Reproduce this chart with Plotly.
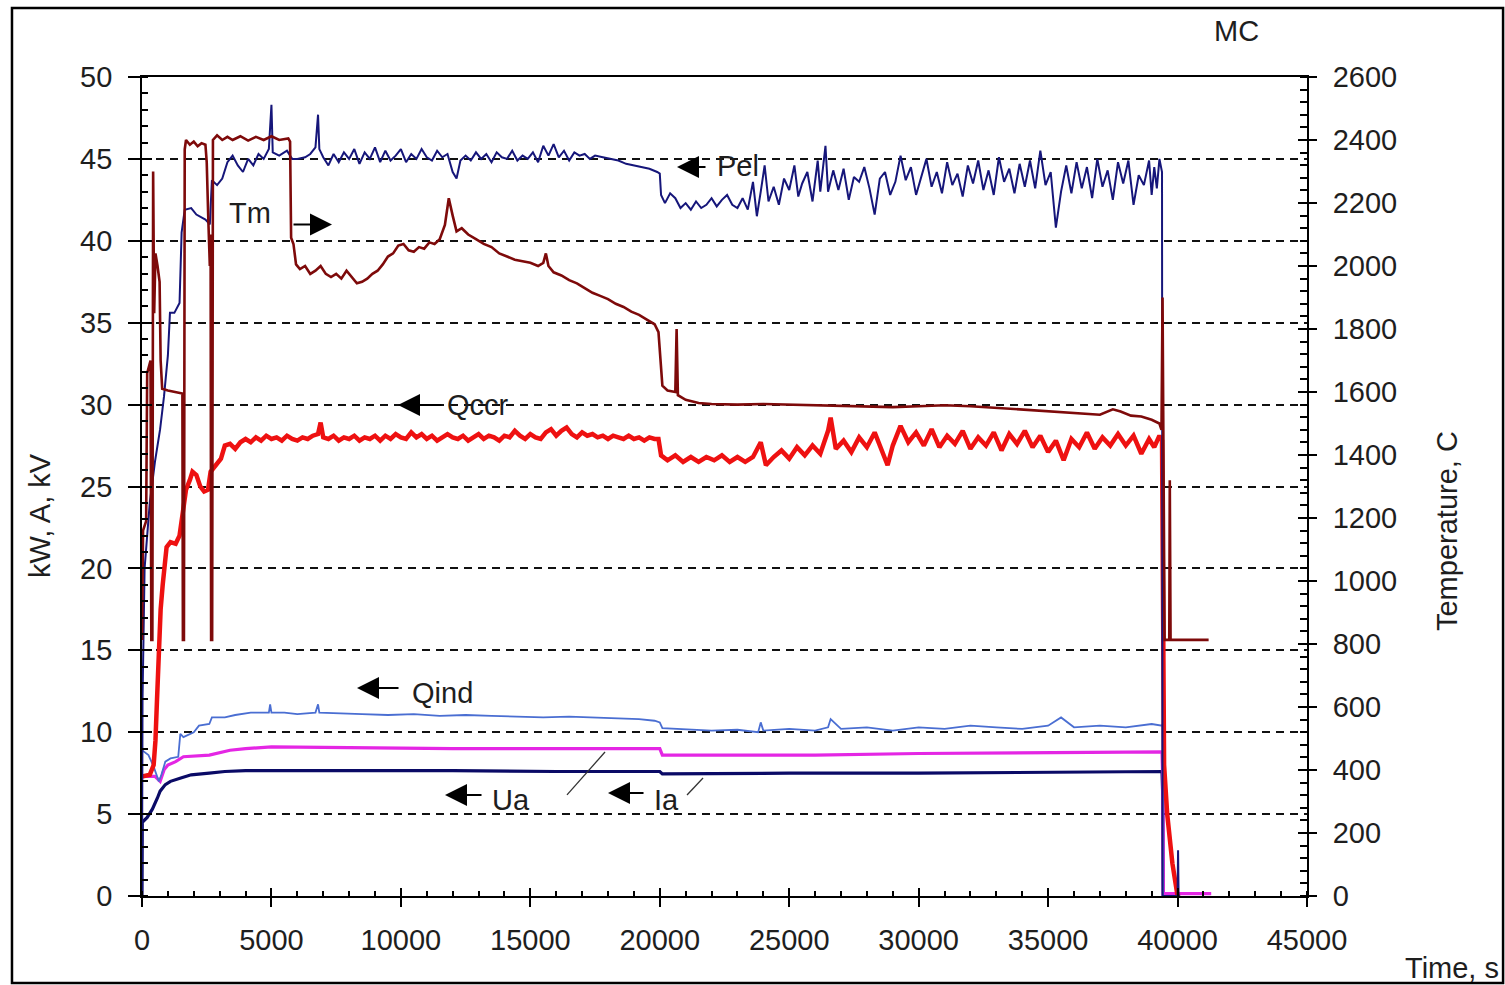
import plotly.graph_objects as go

# ---------------- data ----------------
# time axis ticks
time_ticks = [0, 5000, 10000, 15000, 20000, 25000, 30000, 35000, 40000, 45000]
time_labels = [str(v) for v in time_ticks]
left_ticks = [0, 5, 10, 15, 20, 25, 30, 35, 40, 45, 50]
right_ticks = [0, 200, 400, 600, 800, 1000, 1200, 1400, 1600, 1800, 2000, 2200, 2400, 2600]

# Pel, kW
pel_t = [0, 20, 100, 300, 500, 700, 850, 1000, 1080, 1250, 1450, 1530, 1650, 1900, 2100, 2450,
         2620, 2700, 2900, 3100, 3300, 3500, 3700, 3900, 4100, 4300, 4500, 4700, 4900, 5000,
         5050, 5300, 5600, 5800, 6000, 6300, 6500, 6700, 6800, 6850, 7000, 7200, 7400, 7600,
         7800, 8000, 8200, 8400, 8600, 8800, 9000, 9200, 9400, 9600, 9800, 10000, 10200,
         10400, 10600, 10800, 11000, 11200, 11400, 11600, 11800, 12000, 12150, 12300, 12500,
         12700, 12900, 13100, 13300, 13500, 13700, 13900, 14100, 14300, 14500, 14700, 14900,
         15100, 15300, 15500, 15700, 15900, 16100, 16300, 16500, 16700, 16900, 17100, 17300,
         17500, 17800, 18100, 18400, 18700, 19000, 19300, 19600, 19900, 20000, 20050, 20200,
         20400, 20600, 20800, 21000, 21200, 21400, 21600, 21800, 22000, 22200, 22400, 22600,
         22800, 23000, 23200, 23400, 23600, 23750, 23900, 24050, 24200, 24400, 24600, 24800,
         25000, 25200, 25350, 25500, 25700, 25900, 26100, 26200, 26400, 26500, 26700, 26900,
         27100, 27300, 27500, 27700, 27900, 28100, 28300, 28500, 28700, 28900, 29100, 29300,
         29500, 29700, 29900, 30100, 30300, 30500, 30700, 30900, 31100, 31300, 31500, 31700,
         31900, 32100, 32300, 32500, 32700, 32900, 33100, 33300, 33500, 33700, 33900, 34100,
         34300, 34500, 34700, 34900, 35100, 35300, 35500, 35700, 35900, 36100, 36300, 36500,
         36700, 36900, 37100, 37300, 37500, 37700, 37900, 38100, 38300, 38500, 38700, 38900,
         39000, 39100, 39200, 39300, 39400, 39420, 40000, 40020, 40040, 40100]
pel_v = [0, 12, 20, 24, 26.5, 28.5, 30.5, 33, 35.6, 35.6, 36.2, 40.5, 41.9, 42.0, 41.6, 41.3,
         41.0, 43.7, 43.4, 43.8, 44.8, 45.2, 44.6, 44.2, 45.0, 44.6, 45.3, 45.0, 45.6, 48.3,
         45.4, 45.2, 45.5, 45.0, 45.0, 45.1, 45.3, 45.7, 47.7, 45.6, 45.1, 44.6, 45.3, 44.8,
         45.4, 45.0, 45.6, 44.7, 45.4, 45.0, 45.7, 44.8, 45.5, 44.9, 45.2, 45.6, 44.8,
         45.3, 45.0, 45.6, 45.1, 44.9, 45.5, 45.1, 45.3, 44.2, 43.8, 44.9, 45.2,
         44.9, 45.4, 45.0, 45.3, 44.8, 45.4, 45.1, 45.0, 45.5, 44.9, 45.2, 45.0,
         45.4, 44.8, 45.8, 45.2, 45.9, 45.1, 45.5, 44.9, 45.4, 45.2, 45.3, 45.0,
         45.2, 45.1, 45.0, 44.9, 44.7, 44.6, 44.5, 44.4, 44.2, 44.1, 42.8, 42.3,
         42.9, 42.6, 42.0, 42.3, 41.9, 42.4, 42.0, 42.2, 42.6, 42.1, 42.5, 42.8,
         42.2, 42.0, 42.6, 41.9, 43.6, 41.5, 43.0, 44.6, 42.4, 43.3, 42.2, 43.8,
         43.1, 44.6, 42.7, 43.5, 44.2, 42.4, 44.9, 43.0, 45.8, 43.0, 44.3, 43.1,
         44.4, 42.5, 43.9, 43.6, 44.5, 43.2, 41.6, 43.8, 44.2, 42.8, 43.6, 45.2,
         43.7, 44.5, 42.8, 43.9, 45.0, 43.3, 44.2, 42.9, 44.8, 43.4, 44.1, 42.7,
         44.6, 43.5, 44.9, 43.1, 44.3, 42.8, 45.1, 43.6, 44.4, 42.9, 44.7, 43.3,
         44.9, 43.2, 45.5, 43.4, 44.2, 40.8, 43.0, 44.6, 42.9, 44.8, 43.2, 44.5,
         42.6, 45.0, 43.3, 44.3, 42.5, 44.8, 43.5, 44.9, 42.2, 44.0, 43.4, 44.9,
         42.8, 44.5, 43.2, 45.0, 44.2, 0, 0, 2.8, 0, 0]

# Qccr, kW
qccr_t = [0, 300, 450, 520, 580, 650, 720, 800, 880, 950, 1100, 1300, 1450, 1550, 1700, 1850,
          1950, 2100, 2250, 2400, 2550, 2650, 2800, 3050, 3200, 3400, 3600, 3800,
          4000, 4200, 4400, 4600, 4800, 5000, 5200, 5400, 5600, 5800, 6000, 6200, 6400, 6600,
          6800, 6900, 7000, 7200, 7400, 7600, 7800, 8000, 8200, 8400, 8600, 8800, 9000, 9200,
          9400, 9600, 9800, 10000, 10200, 10400, 10600, 10800, 11000, 11200, 11400, 11600,
          11800, 12000, 12200, 12400, 12600, 12800, 13000, 13200, 13400, 13600, 13800, 14000,
          14200, 14400, 14600, 14800, 15000, 15200, 15400, 15600, 15800, 16000, 16200, 16400,
          16600, 16800, 17000, 17200, 17400, 17600, 17800, 18000, 18200, 18400, 18600, 18800,
          19000, 19200, 19400, 19600, 19800, 19950,
          20050, 20300, 20600, 20900, 21200, 21500, 21800, 22100,
          22400, 22700, 23000, 23300, 23600, 23900, 24100, 24400, 24700, 25000, 25300, 25600,
          25900, 26200, 26500, 26600, 26800, 27100, 27400, 27700, 28000, 28300, 28600, 28800,
          29000, 29300, 29600, 29900, 30200, 30500, 30800, 31100, 31400, 31700, 32000, 32300,
          32600, 32900, 33200, 33500, 33800, 34100, 34400, 34700, 35000, 35300, 35600, 35900,
          36200, 36500, 36800, 37100, 37400, 37700, 38000, 38300, 38600, 38900, 39100, 39300,
          39400, 39430, 39480, 39600, 39800, 40000, 40100]
qccr_v = [7.3, 7.4, 8.0, 9.5, 12.0, 15.0, 17.5, 19.0, 20.5, 21.3, 21.6, 21.5, 22.0, 23.2, 24.8,
          25.4, 25.9, 25.7, 25.0, 24.7, 24.8, 25.9, 26.2, 26.7, 27.5, 27.6, 27.3, 27.7,
          27.9, 27.7, 28.0, 27.8, 28.1, 27.9, 28.0, 27.8, 28.1, 27.9, 27.8, 28.0, 27.9, 28.1,
          28.2, 28.9, 28.0, 27.9, 28.1, 27.8, 28.0, 27.9, 28.1, 27.8, 28.0, 27.9, 28.1, 27.8,
          28.1, 27.9, 28.2, 28.0, 27.9, 28.3, 28.0, 28.2, 27.9, 28.1, 27.8, 28.0,
          28.2, 28.0, 27.9, 28.1, 27.8, 28.0, 28.2, 27.9, 28.1, 28.0, 27.8, 28.1,
          28.0, 28.4, 28.1, 27.9, 28.2, 28.0, 27.9, 28.3, 28.5, 28.1, 28.4, 28.6,
          28.2, 28.0, 28.3, 28.1, 28.2, 28.0, 28.1, 27.9, 28.1, 28.0, 27.9, 28.1,
          27.9, 28.0, 27.8, 28.0, 27.9, 27.9,
          26.9, 26.6, 26.9, 26.5, 26.8, 26.5, 26.8, 26.6,
          26.9, 26.5, 26.8, 26.5, 26.8, 27.7, 26.3, 26.8, 27.2, 26.7, 27.4, 26.9,
          27.5, 27.0, 28.4, 29.2, 27.3, 27.8, 27.1, 28.0, 27.4, 28.3, 27.0, 26.3,
          27.5, 28.7, 27.7, 28.3, 27.5, 28.5, 27.4, 28.1, 27.6, 28.4, 27.3, 28.0,
          27.5, 28.3, 27.2, 28.2, 27.6, 28.4, 27.4, 28.1, 27.1, 27.8, 26.6, 27.9,
          27.4, 28.3, 27.3, 28.0, 27.5, 28.2, 27.5, 28.1, 27.0, 27.9, 27.4, 28.1,
          27.8, 20.0, 8.0, 5.0, 2.0, 0, 0]

# Qind, kW
qind_t = [0, 250, 450, 650, 750, 900, 1100, 1400, 1480, 1600, 2000, 2200, 2600, 2700, 3200, 3600,
          4200, 4900, 4950, 5000, 5500, 6000, 6700, 6800, 6850, 7500, 8500, 9500, 10500, 11500,
          12500, 13500, 14500, 15500, 16500, 17500, 18500, 19200, 19800, 20000, 20100, 21000,
          22000, 23000, 23800, 23900, 24000, 25000, 26000, 26500, 26600, 27000, 28000, 29000,
          30000, 31000, 32000, 33000, 34000, 35000, 35500, 36000, 37000, 38000, 39000, 39400,
          39420, 39440, 39500]
qind_v = [8.9, 8.6, 7.9, 7.0, 7.4, 8.2, 8.4, 8.5, 9.9, 9.7, 10.0, 10.4, 10.5, 10.9, 10.9, 11.05,
          11.2, 11.2, 11.7, 11.2, 11.2, 11.1, 11.2, 11.7, 11.2, 11.15, 11.1, 11.05, 11.1, 11.0,
          11.05, 11.0, 10.95, 10.9, 10.95, 10.9, 10.85, 10.8, 10.7, 10.6, 10.25, 10.2,
          10.1, 10.15, 10.0, 10.6, 10.1, 10.2, 10.1, 10.3, 10.8, 10.2, 10.3, 10.1,
          10.3, 10.2, 10.4, 10.3, 10.2, 10.4, 10.9, 10.3, 10.4, 10.3, 10.5, 10.4,
          10.5, 0, 0]

# Ia, A
ia_t = [0, 500, 700, 850, 1000, 1300, 1600, 2600, 3400, 4000, 5000, 8000, 12000, 16000, 20000,
        20100, 23000, 26000, 30000, 34000, 38000, 39400, 39430, 39450, 41300]
ia_v = [7.3, 7.3, 7.0, 7.7, 8.0, 8.2, 8.5, 8.6, 8.9, 9.0, 9.1, 9.05, 9.0, 9.0, 9.0,
        8.6, 8.6, 8.6, 8.7, 8.75, 8.8, 8.8, 7.0, 0.15, 0.15]

# Ua, kV
ua_t = [0, 10, 200, 400, 600, 700, 900, 1100, 1500, 1900, 2600, 3200, 4000, 8000, 12000, 16000,
        20000, 20100, 25000, 30000, 35000, 39400, 39430, 39450]
ua_v = [0, 4.5, 4.8, 5.3, 6.0, 6.4, 6.8, 7.0, 7.2, 7.4, 7.5, 7.6, 7.65, 7.65, 7.65, 7.6,
        7.6, 7.45, 7.5, 7.5, 7.55, 7.6, 6.0, 0]

# Tm, C
tm_t = [0, 40, 160, 200, 330, 360, 400, 430, 470, 520, 600, 680, 720, 780, 1000, 1300, 1560,
        1580, 1620, 1650, 1700, 1850, 2000, 2150, 2300, 2450, 2500, 2560, 2620, 2650, 2670,
        2710, 2740, 2900, 3100, 3300, 3500, 3800, 4100, 4400, 4700, 5000, 5300, 5650, 5720,
        5760, 5850, 5950, 6100, 6300, 6500, 6700, 6900, 7100, 7300, 7500, 7700, 7900, 8100,
        8300, 8500, 8700, 8900, 9100, 9300, 9500, 9700, 9900, 10100, 10300, 10500, 10700,
        10900, 11100, 11300, 11500, 11700, 11850, 12000, 12150, 12350, 12600, 12900, 13200,
        13500, 13800, 14100, 14400, 14700, 15000, 15300, 15500, 15600, 15700, 15900, 16200,
        16500, 16800, 17100, 17400, 17700, 18000, 18300, 18600, 18900, 19200, 19500, 19800,
        19950, 20000, 20050, 20100, 20300, 20600, 20650, 20700, 21000, 21500, 22000, 23000,
        24000, 25000, 26000, 27000, 28000, 29000, 30000, 31000, 32000, 33000, 34000, 35000,
        36000, 37000, 37500, 37800, 38200, 38600, 39000, 39300, 39380, 39420, 39460, 39500,
        39680, 39700, 39730, 41200]
tm_v = [813, 1160, 1190, 1660, 1700, 813, 813, 2300, 1850, 2040, 2000, 1950, 1700, 1610, 1605,
        1600, 1595, 813, 813, 2370, 2400, 2385, 2395, 2380, 2390, 2385, 2330, 2150, 2000, 2100,
        813, 813, 2400, 2415, 2400, 2410, 2400, 2412, 2398, 2410, 2400, 2412, 2400, 2405, 2395,
        2090, 2070, 2005, 1990, 2000, 1975, 1985, 2000, 1975, 1965, 1975, 1960, 1985, 1965,
        1945, 1950, 1960, 1975, 1985, 2005, 2030, 2040, 2065, 2070, 2050, 2045, 2060,
        2055, 2075, 2070, 2085, 2130, 2215, 2160, 2110, 2120, 2100, 2085, 2070,
        2060, 2040, 2030, 2020, 2015, 2010, 2000, 2010, 2040, 2000, 1980, 1970,
        1955, 1945, 1930, 1915, 1905, 1895, 1880, 1870, 1855, 1845, 1830, 1815,
        1790, 1720, 1660, 1620, 1605, 1600, 1800, 1590, 1575, 1565, 1562, 1560,
        1562, 1560, 1558, 1556, 1553, 1552, 1555, 1558, 1555, 1550, 1545, 1540,
        1535, 1528, 1545, 1538, 1525, 1522, 1512, 1500, 1480, 1900, 1350, 813,
        813, 1320, 813, 813]

# ---------------- figure ----------------
FONT = "Liberation Sans, Arial, sans-serif"
TXT = "#1e1e1e"

fig = go.Figure()

fig.add_trace(go.Scatter(x=ua_t, y=ua_v, mode="lines", name="Ua",
                         line=dict(color="#0a0a66", width=3.2)))
fig.add_trace(go.Scatter(x=ia_t, y=ia_v, mode="lines", name="Ia",
                         line=dict(color="#e426e4", width=3.2)))
fig.add_trace(go.Scatter(x=qind_t, y=qind_v, mode="lines", name="Qind",
                         line=dict(color="#4a6ed2", width=1.8)))
fig.add_trace(go.Scatter(x=qccr_t, y=qccr_v, mode="lines", name="Qccr",
                         line=dict(color="#ee1111", width=4.5)))
fig.add_trace(go.Scatter(x=pel_t, y=pel_v, mode="lines", name="Pel",
                         line=dict(color="#16167a", width=2)))
fig.add_trace(go.Scatter(x=tm_t, y=tm_v, mode="lines", name="Tm", yaxis="y2",
                         line=dict(color="#7e0a0a", width=2.6)))

# empty traces that carry the inner halves of the crossing major ticks
fig.add_trace(go.Scatter(x=[], y=[], xaxis="x2", yaxis="y", showlegend=False, hoverinfo="skip"))
fig.add_trace(go.Scatter(x=[], y=[], xaxis="x", yaxis="y3", showlegend=False, hoverinfo="skip"))
fig.add_trace(go.Scatter(x=[], y=[], xaxis="x", yaxis="y4", showlegend=False, hoverinfo="skip"))

axis_font = dict(family=FONT, size=29, color=TXT)

fig.update_layout(
    width=1505, height=985,
    margin=dict(l=142, r=198, t=77, b=89, pad=0),
    paper_bgcolor="white", plot_bgcolor="white",
    showlegend=False,
    font=dict(family=FONT, size=29, color=TXT),
    xaxis=dict(range=[0, 45000], tickvals=time_ticks, ticktext=time_labels,
               ticks="outside", ticklen=9, tickwidth=1.8, tickcolor="black",
               minor=dict(dtick=1000, ticks="inside", ticklen=5, tickwidth=1.5, tickcolor="black"),
               showline=True, linecolor="black", linewidth=1.8, mirror=True,
               showgrid=False, zeroline=False, tickfont=axis_font, ticklabelstandoff=8),
    xaxis2=dict(range=[0, 45000], overlaying="x", anchor="y", tickvals=time_ticks,
                ticks="inside", ticklen=8, tickwidth=1.8, tickcolor="black",
                showticklabels=False, showgrid=False, zeroline=False, showline=False),
    yaxis=dict(range=[0, 50], tickvals=left_ticks, ticks="outside", ticklen=12, tickwidth=1.8,
               tickcolor="black",
               minor=dict(dtick=1, ticks="inside", ticklen=6, tickwidth=1.5, tickcolor="black"),
               showline=True, linecolor="black", linewidth=1.8,
               showgrid=True, gridcolor="#111111", gridwidth=1.8, griddash="8px,6px",
               zeroline=False, tickfont=axis_font, ticklabelstandoff=10),
    yaxis2=dict(range=[0, 2600], overlaying="y", side="right", anchor="x", tickvals=right_ticks,
                ticks="outside", ticklen=8, tickwidth=1.8, tickcolor="black",
                minor=dict(dtick=40, ticks="inside", ticklen=7, tickwidth=1.5, tickcolor="black"),
                showline=True, linecolor="black", linewidth=1.8,
                showgrid=False, zeroline=False, tickfont=axis_font, ticklabelstandoff=10),
    yaxis3=dict(range=[0, 50], overlaying="y", side="left", anchor="x", tickvals=left_ticks,
                ticks="inside", ticklen=10, tickwidth=1.8, tickcolor="black",
                showticklabels=False, showgrid=False, zeroline=False, showline=False),
    yaxis4=dict(range=[0, 2600], overlaying="y", side="right", anchor="x", tickvals=right_ticks,
                ticks="inside", ticklen=9, tickwidth=1.8, tickcolor="black",
                showticklabels=False, showgrid=False, zeroline=False, showline=False),
)

# outer frame around the whole chart
fig.add_shape(type="rect", xref="paper", yref="paper",
              x0=-0.1116, x1=1.1683, y0=-0.1062, y1=1.0842,
              line=dict(color="black", width=2.5), layer="below")

# axis titles and caption texts
paper_texts = [
    ("kW, A, kV", -0.0876, 0.4652, -90),
    ("Temperature, C", 1.1202, 0.4457, -90),
    ("Time, s", 1.1245, -0.0879, 0),
    ("MC", 0.9399, 1.0562, 0),
]
for txt, px, py, ang in paper_texts:
    fig.add_annotation(text=txt, x=px, y=py, xref="paper", yref="paper", showarrow=False,
                       textangle=ang, xanchor="center", yanchor="middle",
                       font=dict(family=FONT, size=29, color=TXT))

# series call-outs: arrow (head, tail) and label placed beside it
callouts = [
    # label, label_x, label_y, head_x, head_y, tail_x, tail_y, label anchor
    ("Tm", 4172, 41.7, 7339, 41.0, 5794, 41.0, "center"),
    ("Pel", 22133, 44.57, 20665, 44.5, 21824, 44.5, "left"),
    ("Qccr", 11704, 29.98, 9889, 29.98, 11627, 29.98, "left"),
    ("Qind", 10352, 12.39, 8305, 12.7, 9966, 12.7, "left"),
    ("Ua", 13442, 5.86, 11704, 6.17, 13172, 6.17, "left"),
    ("Ia", 19700, 5.86, 18000, 6.29, 19430, 6.29, "left"),
]
for lab, lx, ly, hx, hy, tx, ty, anc in callouts:
    fig.add_annotation(x=hx, y=hy, ax=tx, ay=ty, xref="x", yref="y", axref="x", ayref="y",
                       text="", showarrow=True, arrowhead=2, arrowsize=2.2, arrowwidth=2,
                       arrowcolor="black", standoff=0, startstandoff=0)
    fig.add_annotation(x=lx, y=ly, xref="x", yref="y", text=lab, showarrow=False,
                       xanchor=anc, yanchor="middle",
                       font=dict(family=FONT, size=29, color=TXT))

# thin leader strokes joining the Ua / Ia labels to their curves
leaders = [(16416, 6.17, 17884, 8.79), (21052, 6.17, 21670, 7.2)]
for x0, y0, x1, y1 in leaders:
    fig.add_shape(type="line", xref="x", yref="y", x0=x0, y0=y0, x1=x1, y1=y1,
                  line=dict(color="#333333", width=1.3))

fig.write_html("out.html")
